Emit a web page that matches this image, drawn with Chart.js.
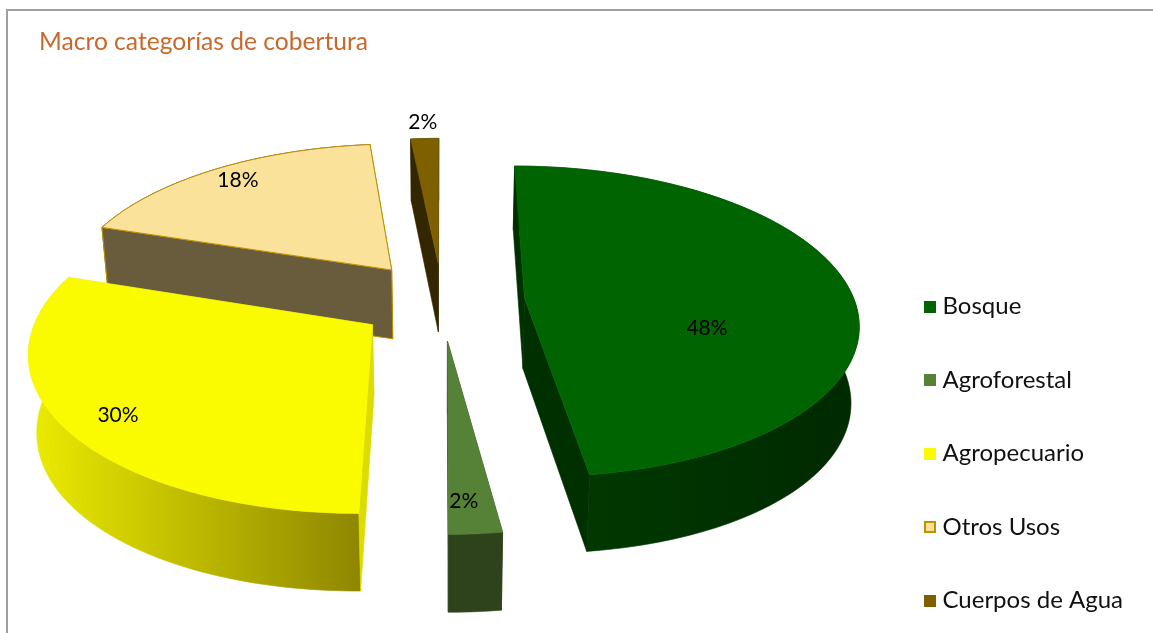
<!DOCTYPE html>
<html lang="es">
<head>
<meta charset="utf-8">
<title>Macro categorías de cobertura</title>
<script src="https://cdn.jsdelivr.net/npm/chart.js@4"></script>
<style>
html,body{margin:0;padding:0;background:#fff;overflow:hidden}
#wrap{position:relative;width:1153px;height:633px}
#frame{position:absolute;left:6px;top:9px;right:0;bottom:0;border-left:2px solid #a0a0a0;border-top:2px solid #a0a0a0}
canvas{position:absolute;left:0;top:0}
</style>
</head>
<body>
<div id="wrap"><div id="frame"></div><canvas id="c" width="1153" height="633"></canvas></div>
<script>
const categories = ["Bosque","Agroforestal","Agropecuario","Otros Usos","Cuerpos de Agua"];
const values = [47.85,2.15,30,18.4,1.6];
const topColors = ["#006400","#558237","#FBFB00","#FBE29A","#7F6000"];
const borderColors = ["#006400","#558237","#FBFB00","#BF9000","#7F6000"];
const rimStart = ["#003d00","#2e431c","#ecec00","#685c3c","#332600"];
const rimEnd = ["#002900","#2e431c","#8f8700","#685c3c","#332600"];
const faceColors = ["#002f00","#2e431c","#dcdc00","#685c3c","#332600"];
const explode = [0.236,0.236,0.28,0.26,0.236];
const nudgeX = [2,-3,4,-1,-3];
const nudgeY = [1,4,-1,0,-2];
const labelRadius = [0.56,0.85,0.84,0.85,1.16];
const labelDx = [0,-7,0,-2,0];
const labelDy = [35,1,5,-3,1];
const drawOrder = [4,3,0,2,1];
const FONT = "Lato";

const view = {cx:445, cy:300, R:330, tilt:0.4625, persp:0.000445, depth:70, depthPersp:0.0193, depthSide:6, converge:0.98};

function project(X,Y,bottom,i){
  const s = 1/(1 - Y*view.persp);
  let x = view.cx + X*s;
  let y = view.cy + view.tilt*Y*s;
  if(bottom){
    const side = X/415;
    y += view.depth + Y*view.depthPersp + side*side*view.depthSide;
    x = view.cx + (x-view.cx)*view.converge;
  }
  return [x+nudgeX[i],y+nudgeY[i]];
}
function pathOf(ctx,pts){
  ctx.beginPath();
  pts.forEach((p,i)=> i? ctx.lineTo(p[0],p[1]) : ctx.moveTo(p[0],p[1]));
  ctx.closePath();
}
const pie3d = {
  id:'pie3d',
  beforeDatasetDraw(){ return false; },
  afterDatasetsDraw(chart){
    const ctx = chart.ctx, arcs = chart.getDatasetMeta(0).data;
    const geo = arcs.map((el,i)=>{
      const {startAngle,endAngle} = el.getProps(['startAngle','endAngle'],true);
      const mid = (startAngle+endAngle)/2;
      const ox = Math.cos(mid)*explode[i]*view.R, oy = Math.sin(mid)*explode[i]*view.R;
      const rim = [];
      const n = Math.max(4,Math.round((endAngle-startAngle)*40));
      for(let k=0;k<=n;k++){
        const a = startAngle+(endAngle-startAngle)*k/n;
        rim.push([ox+Math.cos(a)*view.R, oy+Math.sin(a)*view.R]);
      }
      return {ox,oy,rim,mid};
    });
    drawOrder.forEach(i=>{
      const g = geo[i];
      const top = g.rim.map(p=>project(p[0],p[1],false,i));
      const bot = g.rim.map(p=>project(p[0],p[1],true,i));
      const a0 = project(g.ox,g.oy,false,i), a1 = project(g.ox,g.oy,true,i);
      const strokeCol = borderColors[i];
      ctx.save();
      ctx.lineJoin='round';
      ctx.lineWidth= i===3?1:0.6;
      // rim
      const xs = top.map(p=>p[0]);
      const gr = ctx.createLinearGradient(Math.min(...xs),0,Math.max(...xs),0);
      gr.addColorStop(0,rimStart[i]); gr.addColorStop(1,rimEnd[i]);
      pathOf(ctx,top.concat(bot.slice().reverse()));
      ctx.fillStyle=gr; ctx.fill();
      ctx.strokeStyle=gr; ctx.stroke();
      // radial faces: far edge first, so the near one stays on top
      [top.length-1,0].forEach(idx=>{
        pathOf(ctx,[a0,top[idx],bot[idx],a1]);
        ctx.fillStyle=faceColors[i]; ctx.fill();
        ctx.strokeStyle= i===3?strokeCol:faceColors[i]; ctx.stroke();
      });
      // top
      pathOf(ctx,[a0].concat(top));
      ctx.fillStyle=topColors[i]; ctx.fill();
      ctx.strokeStyle=strokeCol; ctx.stroke();
      ctx.restore();
    });
    // value labels
    const total = values.reduce((a,b)=>a+b,0);
    ctx.save();
    ctx.font = "21px "+FONT;
    ctx.fillStyle="#000";
    ctx.textAlign="center"; ctx.textBaseline="middle";
    geo.forEach((g,i)=>{
      const X = g.ox+Math.cos(g.mid)*view.R*labelRadius[i];
      const Y = g.oy+Math.sin(g.mid)*view.R*labelRadius[i];
      const p = project(X,Y,false,i);
      ctx.fillText(Math.round(values[i]/total*100)+"%",p[0]+labelDx[i],p[1]+labelDy[i]);
    });
    ctx.restore();
  }
};
function swatch(fill,stroke){
  const c=document.createElement('canvas');c.width=12;c.height=12;
  const x=c.getContext('2d');x.fillStyle=fill;x.fillRect(0,0,12,12);
  if(stroke){x.strokeStyle=stroke;x.lineWidth=2;x.strokeRect(1,1,10,10);}
  return c;
}
new Chart(document.getElementById('c'),{
  type:'pie',
  data:{labels:categories,datasets:[{data:values,backgroundColor:topColors,borderColor:borderColors,borderWidth:0}]},
  plugins:[pie3d],
  options:{
    responsive:false,animation:false,
    layout:{padding:{left:39,right:20,top:0,bottom:-29}},
    plugins:{
      tooltip:{enabled:false},
      title:{display:true,text:"Macro categorías de cobertura",align:'start',color:"#C8692B",
        font:{family:FONT,size:24.6,weight:'normal'},padding:{top:27,bottom:0}},
      legend:{position:'right',align:'end',
        labels:{usePointStyle:true,pointStyleWidth:1,boxHeight:12,padding:49.5,color:"#111",
          font:{family:FONT,size:24},
          generateLabels(chart){
            return Chart.overrides.doughnut.plugins.legend.labels.generateLabels(chart).map((l,i)=>
              Object.assign(l,{pointStyle:swatch(i===3?topColors[i]:borderColors[i], i===3?borderColors[i]:null)}));
          }}}
    }
  }
});
</script>
</body>
</html>
